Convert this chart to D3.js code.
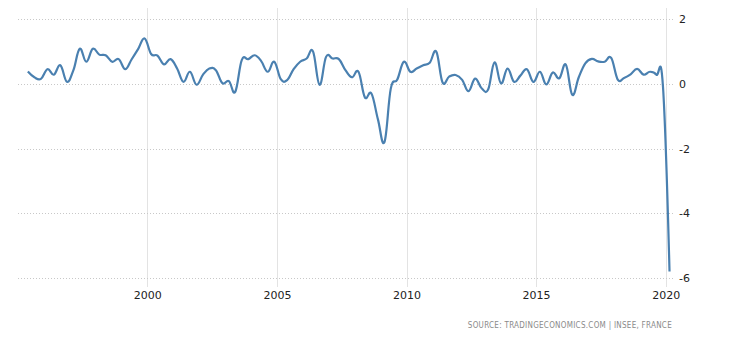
<!DOCTYPE html>
<html>
<head>
<meta charset="utf-8">
<script src="https://cdn.jsdelivr.net/npm/d3@7"></script>
<style>
  html, body { margin: 0; padding: 0; background: #fff; }
  svg { display: block; }
</style>
</head>
<body>
<svg id="chart" width="730" height="340"></svg>
<script>
// Quarterly GDP growth (QoQ %), France, 1995 Q2 – 2020 Q1
const startYear = 1995, startQuarter = 2;
const values = [
  0.38, 0.20, 0.15,                         // 1995 Q2-Q4
  0.45, 0.28, 0.57, 0.06,                   // 1996
  0.42, 1.08, 0.68, 1.08,                   // 1997
  0.90, 0.88, 0.68, 0.76,                   // 1998
  0.45, 0.75, 1.07, 1.40,                   // 1999
  0.92, 0.87, 0.60, 0.76,                   // 2000
  0.47, 0.06, 0.37, -0.03,                  // 2001
  0.28, 0.47, 0.42, 0.02,                   // 2002
  0.08, -0.25, 0.73, 0.76,                  // 2003
  0.88, 0.70, 0.37, 0.68,                   // 2004
  0.14, 0.11, 0.45, 0.68,                   // 2005
  0.78, 1.00, -0.03, 0.83,                  // 2006
  0.78, 0.76, 0.42, 0.20,                   // 2007
  0.37, -0.42, -0.30, -1.10,                // 2008
  -1.80, -0.15, 0.13, 0.68,                 // 2009
  0.37, 0.47, 0.57, 0.65,                   // 2010
  0.99, 0.04, 0.22, 0.27,                   // 2011
  0.12, -0.23, 0.16, -0.14,                 // 2012
  -0.18, 0.66, 0.01, 0.47,                  // 2013
  0.06, 0.25, 0.45, 0.06,                   // 2014
  0.37, -0.02, 0.35, 0.17,                  // 2015
  0.59, -0.34, 0.20, 0.63,                  // 2016
  0.77, 0.69, 0.68, 0.80,                   // 2017
  0.13, 0.18, 0.29, 0.46,                   // 2018
  0.28, 0.37, 0.28, -0.10,                  // 2019
  -5.80                                     // 2020 Q1
];
const quarters = values.map((v, i) => {
  const k = (startQuarter - 1) + i;
  return { year: startYear + Math.floor(k / 4), q: (k % 4) + 1 };
});
const xTickYears = [2000, 2005, 2010, 2015, 2020];
const yTicks = [2, 0, -2, -4, -6];
const sourceText = "SOURCE: TRADINGECONOMICS.COM | INSEE, FRANCE";

const svg = d3.select("#chart");
const plotLeft = 18, plotRight = 673;
const plotTop = 19, plotBottom = 278;

const x = d3.scaleTime()
  .domain([new Date(2000, 0, 1), new Date(2020, 0, 1)])
  .range([147.3, 665.7]);
const y = d3.scaleLinear().domain([-6, 2]).range([plotBottom, plotTop]);

const dateOf = d => new Date(d.year, (d.q - 1) * 3 + 1, 24);

const data = values.map((v, i) => ({ date: dateOf(quarters[i]), value: v }));

// vertical grid lines
svg.append("g").selectAll("line")
  .data(xTickYears)
  .join("line")
  .attr("x1", d => Math.round(x(new Date(d, 0, 1))) + 0.5)
  .attr("x2", d => Math.round(x(new Date(d, 0, 1))) + 0.5)
  .attr("y1", 8).attr("y2", 287)
  .attr("stroke", "#e3e3e3").attr("stroke-width", 1);

// horizontal dotted grid lines
svg.append("g").selectAll("line")
  .data(yTicks)
  .join("line")
  .attr("x1", plotLeft).attr("x2", plotRight)
  .attr("y1", d => Math.round(y(d)) + 0.5)
  .attr("y2", d => Math.round(y(d)) + 0.5)
  .attr("stroke", "#c8c8c8").attr("stroke-width", 1)
  .attr("stroke-dasharray", "1,2");

// x axis labels
const xAxis = d3.axisBottom(x)
  .tickValues(xTickYears.map(yr => new Date(yr, 0, 1)))
  .tickFormat(d3.timeFormat("%Y"))
  .tickSize(0).tickPadding(0);
const gx = svg.append("g").attr("transform", "translate(0,291)").call(xAxis);
gx.select(".domain").remove();
gx.selectAll("text")
  .attr("dy", "0.71em")
  .attr("fill", "#222")
  .style("font-family", "'DejaVu Sans', sans-serif")
  .style("font-size", "11px");

// y axis labels (right)
const yAxis = d3.axisRight(y)
  .tickValues(yTicks)
  .tickFormat(d => String(d))
  .tickSize(0).tickPadding(0);
const gy = svg.append("g").attr("transform", "translate(679,0)").call(yAxis);
gy.select(".domain").remove();
gy.selectAll("text")
  .attr("fill", "#222")
  .style("font-family", "'DejaVu Sans', sans-serif")
  .style("font-size", "11px");

// line
const line = d3.line()
  .x(d => x(d.date))
  .y(d => y(d.value))
  .curve(d3.curveCardinal.tension(-0.2));

svg.append("path")
  .datum(data)
  .attr("fill", "none")
  .attr("stroke", "#4a80b0")
  .attr("stroke-width", 2.2)
  .attr("stroke-linejoin", "round")
  .attr("d", line);

// source
svg.append("text")
  .attr("x", 672).attr("y", 328)
  .attr("text-anchor", "end")
  .attr("fill", "#8a8a8a")
  .style("font-family", "'DejaVu Sans Condensed', 'DejaVu Sans', sans-serif")
  .style("font-size", "8px")
  .style("letter-spacing", "0.28px")
  .text(sourceText);
</script>
</body>
</html>
